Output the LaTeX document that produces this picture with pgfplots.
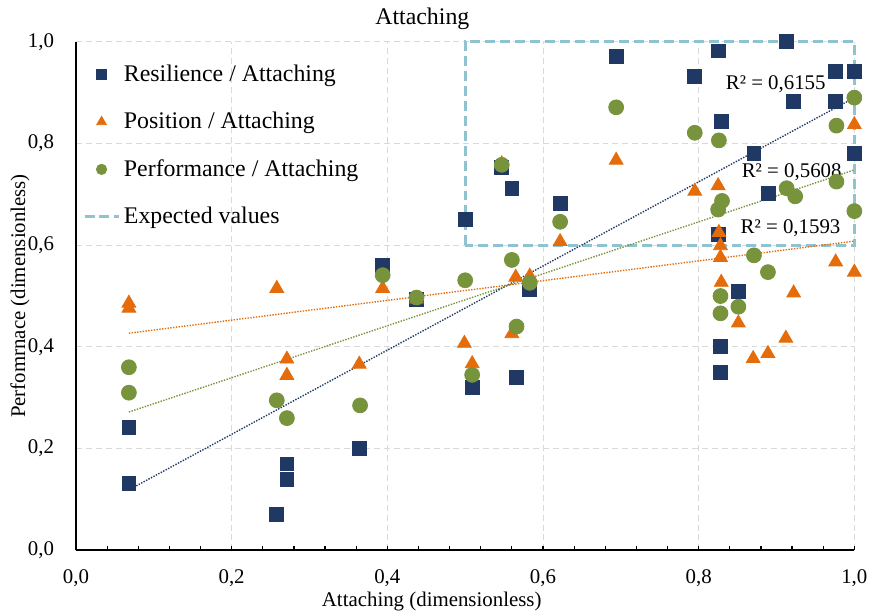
\documentclass[border=0pt]{standalone}
\usepackage{fontspec}
\setmainfont{Liberation Serif}
\usepackage{pgfplots}
\pgfplotsset{compat=1.18}
\definecolor{cnavy}{HTML}{1F3864}
\definecolor{corange}{HTML}{E46C0A}
\definecolor{cgreen}{HTML}{77933C}
\definecolor{cbox}{HTML}{8FC3D1}
\definecolor{cgrid}{HTML}{D9D9D9}
\pgfplotsset{smallmark/.style={legend image code/.code={\draw[mark repeat=2,mark phase=2,##1,mark size=#1] plot coordinates {(0cm,0cm) (0.3cm,0cm) (0.6cm,0cm)};}}}
\begin{document}
\begin{tikzpicture}
\begin{axis}[
  scale only axis, width=391.75pt, height=256pt,
  xmin=0, xmax=1, ymin=0, ymax=1,
  clip=false,
  axis x line*=bottom, axis y line*=left,
  axis line style={line width=1.1pt, black},
  xtick={0,0.2,0.4,0.6,0.8,1}, ytick={0,0.2,0.4,0.6,0.8,1},
  minor x tick num=4,
  tick align=inside,
  x tick style={line width=0.6pt, black},
  major tick length=2.2pt, minor tick length=2.2pt,
  y tick style={draw=none},
  grid=major,
  major grid style={cgrid, dash pattern=on 3pt off 2pt, line width=0.5pt},
  /pgf/number format/fixed, /pgf/number format/fixed zerofill,
  /pgf/number format/precision=1, /pgf/number format/use comma,
  /pgf/number format/assume math mode=true,
  tick label style={font=\fontsize{10.5}{12}\selectfont},
  xticklabel style={yshift=-6pt},
  yticklabel style={xshift=-7.5pt},
  title={Attaching},
  every axis title/.style={at={(axis description cs:0.445,1.045)}, anchor=center, inner sep=0pt, font=\fontsize{12}{14}\selectfont},
  xlabel={Attaching (dimensionless)},
  every axis x label/.style={at={(axis description cs:0.457,-0.0996)}, anchor=center, inner sep=0pt, font=\fontsize{10.5}{12}\selectfont},
  ylabel={Perfomrnace (dimensionless)},
  every axis y label/.style={at={(axis description cs:-0.072,0.5)}, rotate=90, anchor=center, inner sep=0pt, font=\fontsize{10.5}{12}\selectfont},
  legend cell align=left,
  legend style={at={(axis description cs:0.001,0.971)}, anchor=north west, draw=none, fill=none,
    font=\fontsize{12}{14}\selectfont, row sep=10pt},
]
% expected values box (behind markers)
\addplot[cbox, line width=1.5pt, dash pattern=on 5pt off 2.5pt, forget plot]
  coordinates {(0.5,0.6) (0.5,1) (1,1) (1,0.6) (0.5,0.6)};

\addplot[only marks, mark=square*, mark size=3.5pt, color=cnavy, smallmark=2.5pt]
  coordinates {
  (0.068,0.131) (0.068,0.241) (0.258,0.071) (0.271,0.170) (0.271,0.140)
  (0.364,0.200) (0.394,0.561) (0.4375,0.494) (0.500,0.650) (0.509,0.321)
  (0.547,0.753) (0.560,0.712) (0.566,0.340) (0.583,0.513) (0.622,0.683)
  (0.694,0.972) (0.795,0.932) (0.825,0.982) (0.829,0.843) (0.913,1.000)
  (0.922,0.883) (0.976,0.942) (1.000,0.942) (0.976,0.883) (0.871,0.781)
  (1.000,0.781) (0.889,0.702) (0.825,0.621) (0.851,0.510) (0.828,0.401)
  (0.828,0.350)
  };
\addlegendentry{Resilience / Attaching}

\addplot[only marks, mark=triangle*, mark size=4pt, color=corange, smallmark=2.8pt]
  coordinates {
  (0.068,0.486) (0.068,0.476) (0.258,0.515) (0.271,0.376) (0.271,0.344)
  (0.364,0.366) (0.394,0.515) (0.4375,0.494) (0.499,0.407) (0.509,0.367)
  (0.547,0.760) (0.560,0.426) (0.565,0.537) (0.583,0.539) (0.622,0.607)
  (0.694,0.767) (0.795,0.706) (0.825,0.717) (0.826,0.625) (0.828,0.599)
  (0.828,0.576) (1.000,0.837) (0.976,0.567) (1.000,0.547) (0.829,0.527)
  (0.851,0.447) (0.870,0.377) (0.889,0.387) (0.912,0.417) (0.922,0.506)
  };
\addlegendentry{Position / Attaching}

\addplot[only marks, mark=*, mark size=3.75pt, color=cgreen, smallmark=2.6pt]
  coordinates {
  (0.068,0.360) (0.068,0.310) (0.258,0.295) (0.271,0.260) (0.365,0.285)
  (0.394,0.541) (0.4375,0.497) (0.500,0.531) (0.509,0.345) (0.547,0.758)
  (0.560,0.571) (0.566,0.440) (0.583,0.526) (0.622,0.646) (0.694,0.871)
  (0.795,0.821) (0.826,0.806) (0.830,0.687) (0.825,0.670) (0.913,0.712)
  (0.924,0.696) (0.977,0.835) (1.000,0.890) (0.977,0.725) (1.000,0.667)
  (0.871,0.580) (0.889,0.547) (0.828,0.500) (0.828,0.466) (0.851,0.479)
  };
\addlegendentry{Performance / Attaching}

\addlegendimage{cbox, line width=1.5pt, dash pattern=on 5pt off 2.5pt}
\addlegendentry{Expected values}

% linear trend lines
\addplot[cnavy, line width=0.7pt, dash pattern=on 0.7pt off 0.7pt, forget plot]
  coordinates {(0.068,0.119) (1,0.890)};
\addplot[cgreen, line width=0.7pt, dash pattern=on 0.7pt off 0.7pt, forget plot]
  coordinates {(0.068,0.272) (1,0.748)};
\addplot[corange, line width=0.7pt, dash pattern=on 0.7pt off 0.7pt, forget plot]
  coordinates {(0.068,0.427) (1,0.608)};

\node[font=\fontsize{10.5}{12}\selectfont] at (axis cs:0.899,0.916) {R² = 0,6155};
\node[font=\fontsize{10.5}{12}\selectfont] at (axis cs:0.9195,0.744) {R² = 0,5608};
\node[font=\fontsize{10.5}{12}\selectfont] at (axis cs:0.918,0.633) {R² = 0,1593};

\path (axis description cs:-0.0976,-0.125) rectangle (axis description cs:1.0179,1.082);
\end{axis}
\end{tikzpicture}
\end{document}
